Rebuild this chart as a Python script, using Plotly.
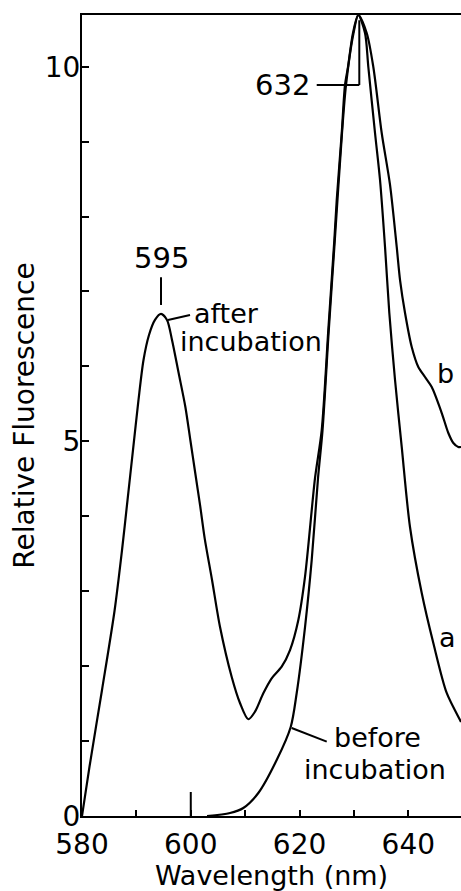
import plotly.graph_objects as go

# ---- data (wavelength nm, relative fluorescence) ----
after_wl = [580.00, 581.38, 583.68, 585.98, 587.36, 588.37, 589.38, 590.39, 591.31, 592.32,
            593.42, 594.53, 595.63, 596.55, 597.78, 599.00, 599.92, 600.83, 601.75, 602.56,
            603.91, 605.38, 607.53, 609.05, 610.58, 611.81, 613.34, 614.88, 616.72, 618.25,
            619.78, 621.01, 622.85, 624.08, 625.29, 626.40, 626.84, 627.76, 628.36, 628.91,
            629.83, 630.81, 632.35, 633.57, 635.11, 636.64, 637.87, 638.48, 639.40, 640.63,
            641.84, 643.07, 644.31, 646.15, 647.36, 648.28, 649.20, 649.69]
after_val = [0.000, 0.658, 1.682, 2.736, 3.550, 4.217, 4.885, 5.552, 6.086, 6.419,
             6.620, 6.700, 6.620, 6.353, 5.908, 5.462, 5.018, 4.574, 4.128, 3.706,
             3.150, 2.522, 1.855, 1.508, 1.291, 1.392, 1.638, 1.838, 1.993, 2.215,
             2.616, 3.194, 4.511, 5.151, 6.486, 7.687, 8.221, 9.115, 9.756, 9.996,
             10.450, 10.690, 10.450, 9.996, 9.115, 8.422, 7.594, 7.153, 6.713, 6.259,
             5.992, 5.859, 5.725, 5.378, 5.111, 4.978, 4.925, 4.925]

before_wl = [602.99, 607.22, 609.66, 612.42, 615.80, 618.38, 619.48, 621.01, 622.24, 623.40,
             624.23, 625.38, 626.49, 627.81, 628.55, 629.93, 630.81, 632.04, 632.65, 633.88,
             634.80, 635.72, 636.51, 637.56, 638.79, 640.31, 642.47, 644.60, 647.06, 649.51,
             649.69]
before_val = [0.000, 0.040, 0.107, 0.307, 0.747, 1.188, 1.642, 2.522, 3.417, 4.511,
              5.151, 6.486, 7.687, 9.115, 9.756, 10.450, 10.690, 10.450, 9.996, 9.115,
              8.488, 7.594, 6.713, 5.819, 4.925, 3.857, 2.976, 2.309, 1.642, 1.281,
              1.255]

x_ticks = [580, 590, 600, 610, 620, 630, 640]
x_labels = ["580", "", "600", "", "620", "", "640"]
y_ticks = [0, 1, 2, 3, 4, 5, 6, 7, 8, 9, 10]
y_labels = ["0", "", "", "", "", "5", "", "", "", "", "10"]

FONT = "DejaVu Sans"

fig = go.Figure()
fig.add_trace(go.Scatter(x=after_wl, y=after_val, mode="lines", name="after incubation (b)",
                         line=dict(color="black", width=2.2, shape="spline", smoothing=0.8)))
fig.add_trace(go.Scatter(x=before_wl, y=before_val, mode="lines", name="before incubation (a)",
                         line=dict(color="black", width=2.2, shape="spline", smoothing=0.8)))

ann = dict(showarrow=False, font=dict(family=FONT, size=27, color="black"))
big = dict(showarrow=False, font=dict(family=FONT, size=29, color="black"))
fig.add_annotation(x=594.53, y=7.45, text="595", xanchor="center", yanchor="middle", **big)
fig.add_annotation(x=616.87, y=9.756, text="632", xanchor="center", yanchor="middle", **big)
fig.add_annotation(x=600.23, y=6.713, text="after", xanchor="left", yanchor="middle", **ann)
fig.add_annotation(x=597.65, y=6.33, text="incubation", xanchor="left", yanchor="middle", **ann)
fig.add_annotation(x=634.25, y=1.054, text="before", xanchor="center", yanchor="middle", **ann)
fig.add_annotation(x=633.88, y=0.614, text="incubation", xanchor="center", yanchor="middle", **ann)
fig.add_annotation(x=647.21, y=2.376, text="a", xanchor="center", yanchor="middle", **ann)
fig.add_annotation(x=646.84, y=5.899, text="b", xanchor="center", yanchor="middle", **ann)

ln = dict(color="black", width=2)
# leader lines
fig.add_shape(type="line", x0=594.53, x1=594.53, y0=6.82, y1=7.19, line=ln)
fig.add_shape(type="line", x0=595.81, x1=599.86, y0=6.62, y1=6.687, line=ln)
fig.add_shape(type="line", x0=623.16, x1=630.99, y0=9.756, y1=9.756, line=ln)
fig.add_shape(type="line", x0=630.99, x1=630.99, y0=9.756, y1=10.62, line=ln)
fig.add_shape(type="line", x0=618.56, x1=625.0, y0=1.174, y1=0.992, line=ln)
# long tick mark at 600 nm
fig.add_shape(type="line", xref="x", yref="paper", x0=600, x1=600, y0=0, y1=0.03, line=ln)

fig.update_layout(
    width=461, height=891,
    margin=dict(l=82, r=0, t=15, b=75),
    paper_bgcolor="white", plot_bgcolor="white",
    showlegend=False,
    font=dict(family=FONT, color="black"),
    xaxis=dict(range=[580, 649.69], tickvals=x_ticks, ticktext=x_labels,
               ticks="inside", ticklen=6, tickwidth=2, tickcolor="black",
               showline=True, linewidth=2, linecolor="black", mirror=True,
               showgrid=False, zeroline=False, automargin=False,
               tickfont=dict(family=FONT, size=28), ticklabelstandoff=2,
               title=dict(text="Wavelength (nm)", font=dict(family=FONT, size=27), standoff=12)),
    yaxis=dict(range=[0, 10.69], tickvals=y_ticks, ticktext=y_labels,
               ticks="inside", ticklen=7, tickwidth=2, tickcolor="black",
               showline=True, linewidth=2, linecolor="black",
               showgrid=False, zeroline=False, automargin=False,
               tickfont=dict(family=FONT, size=28), ticklabelstandoff=-6,
               title=dict(text="Relative Fluorescence", font=dict(family=FONT, size=28), standoff=2)),
)

# remove the default page margin so the 461x891 figure fills the window exactly
fig.write_html("out.html",
               config={"displayModeBar": False},
               post_script="document.body.style.margin='0';"
                           "document.documentElement.style.overflow='hidden';")
